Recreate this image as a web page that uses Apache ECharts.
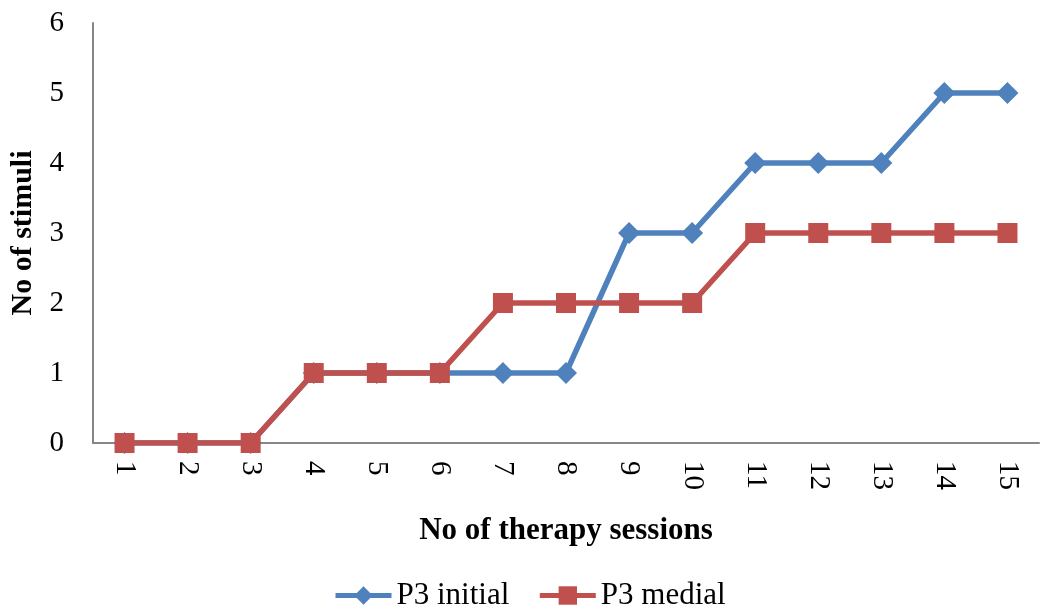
<!DOCTYPE html>
<html>
<head>
<meta charset="utf-8">
<script src="https://cdn.jsdelivr.net/npm/echarts@6/dist/echarts.min.js"></script>
<style>
  html, body { margin: 0; padding: 0; background: #fff; }
  #chart { width: 1040px; height: 612px; }
</style>
</head>
<body>
<div id="chart"></div>
<script>
// Therapy sessions on the x axis
const sessions = ['1','2','3','4','5','6','7','8','9','10','11','12','13','14','15'];
// Number of stimuli per session
const p3Initial = [0, 0, 0, 1, 1, 1, 1, 1, 3, 3, 4, 4, 4, 5, 5];
const p3Medial  = [0, 0, 0, 1, 1, 1, 2, 2, 2, 2, 3, 3, 3, 3, 3];
const seriesNames = ['P3 initial', 'P3 medial'];

const serif = '"Liberation Serif", "Times New Roman", serif';
const chart = echarts.init(document.getElementById('chart'));

chart.setOption({
  backgroundColor: '#ffffff',
  animation: false,
  grid: { left: 93, right: 1, top: 23, bottom: 169, outerBoundsMode: 'none', containLabel: false },
  legend: {
    top: 575,
    left: 328,
    itemWidth: 56,
    itemHeight: 23,
    itemGap: 28,
    lineStyle: { width: 5 },
    textStyle: { fontFamily: serif, fontSize: 31, color: '#000' },
    data: seriesNames
  },
  xAxis: {
    type: 'category',
    data: sessions,
    boundaryGap: true,
    name: 'No of therapy sessions',
    nameLocation: 'middle',
    nameGap: 72,
    nameTextStyle: { fontFamily: serif, fontSize: 31, fontWeight: 'bold', color: '#000' },
    axisLine: { lineStyle: { color: '#868686', width: 2 } },
    axisTick: { show: false },
    axisLabel: { rotate: -90, margin: 18, fontFamily: serif, fontSize: 29, color: '#000' },
    splitLine: { show: false }
  },
  yAxis: {
    type: 'value',
    min: 0,
    max: 6,
    interval: 1,
    name: 'No of stimuli',
    nameLocation: 'middle',
    nameGap: 51,
    nameTextStyle: { fontFamily: serif, fontSize: 30, fontWeight: 'bold', color: '#000' },
    axisLine: { show: true, lineStyle: { color: '#868686', width: 2 } },
    axisTick: { show: false },
    axisLabel: { margin: 29, fontFamily: serif, fontSize: 29, color: '#000' },
    splitLine: { show: false }
  },
  series: [
    {
      name: seriesNames[0],
      type: 'line',
      data: p3Initial,
      symbol: 'diamond',
      symbolSize: 22,
      color: '#4F81BD',
      lineStyle: { width: 5.5, color: '#4F81BD' },
      itemStyle: { color: '#4F81BD' }
    },
    {
      name: seriesNames[1],
      type: 'line',
      data: p3Medial,
      symbol: 'rect',
      symbolSize: 20,
      color: '#C0504D',
      lineStyle: { width: 5.5, color: '#C0504D' },
      itemStyle: { color: '#C0504D' }
    }
  ]
});
</script>
</body>
</html>
